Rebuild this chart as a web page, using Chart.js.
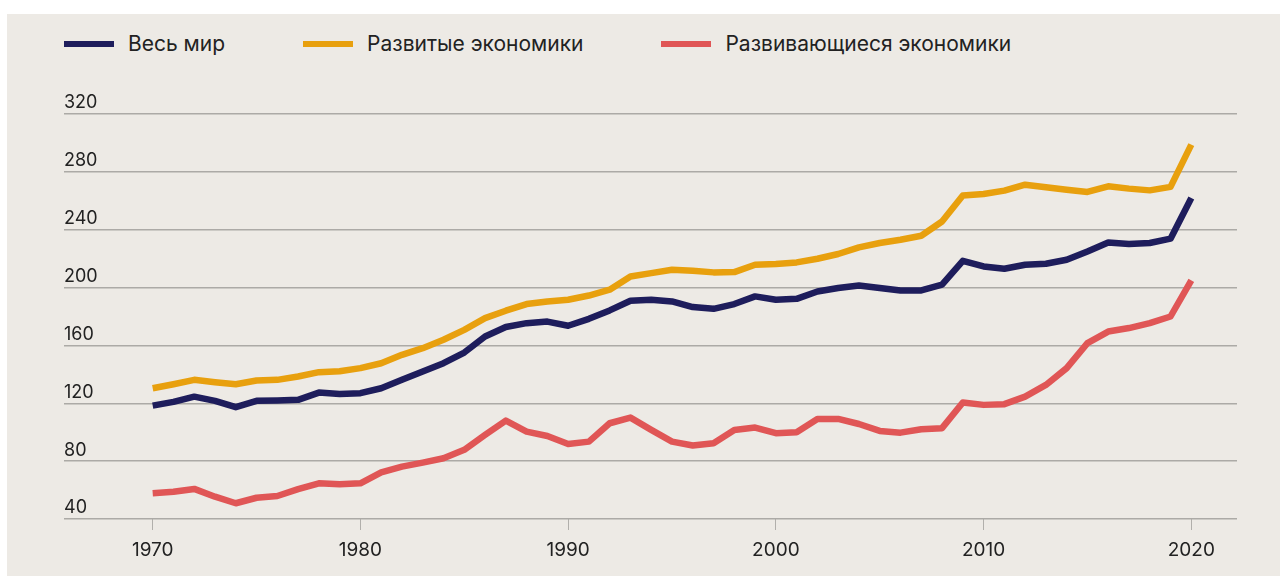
<!DOCTYPE html>
<html lang="ru">
<head>
<meta charset="utf-8">
<title>Долг</title>
<script src="https://cdn.jsdelivr.net/npm/chart.js@4.4.0/dist/chart.umd.min.js"></script>
<style>
  html, body { margin: 0; padding: 0; background: #fff; }
  body { width: 1280px; height: 576px; overflow: hidden; font-family: Inter, Roboto, sans-serif; }
  #panel { position: absolute; left: 7px; top: 14px; width: 1273px; height: 562px; background: #edeae5; }
  #legend { position: absolute; left: 57px; top: 17px; display: flex; align-items: center; font-size: 21px; color: #222; }
  .item { display: flex; align-items: center; margin-right: 78px; }
  .mark { width: 50px; height: 6px; margin-right: 14px; }
  canvas { position: absolute; left: 0; top: 0; }
</style>
</head>
<body>
<div id="panel">
  <div id="legend"></div>
  <canvas id="myChart" width="1273" height="562"></canvas>
</div>
<script>
const years = [];
for (let y = 1970; y <= 2020; y++) years.push(y);

const seriesNames = ['Весь мир', 'Развитые экономики', 'Развивающиеся экономики'];
const seriesColors = ['#1e1d5c', '#e8a00e', '#e05656'];

// весь мир
const world = [118.4, 121, 124.6, 121.7, 117.3, 121.7, 121.9, 122.4, 127.4, 126.5,
  127, 130.4, 136.2, 142, 147.7, 155.1, 166.2, 172.7, 175.4, 176.5,
  173.6, 178.4, 184.2, 190.9, 191.6, 190.4, 186.5, 185.3, 188.6, 193.9,
  191.6, 192.2, 197.3, 199.7, 201.5, 199.7, 198, 198, 202, 218.5,
  214.6, 213, 215.8, 216.5, 219.2, 225, 231.2, 230.1, 230.8, 233.8,
  261.9];

// развитые
const developed = [130.4, 133.2, 136.2, 134.6, 133.2, 135.7, 136.2, 138.5, 141.5, 142.2,
  144.3, 147.7, 153.5, 158.1, 163.9, 170.8, 178.9, 184, 188.6, 190.4,
  191.6, 194.5, 198.5, 207.7, 210, 212.3, 211.6, 210.5, 210.7, 215.8,
  216.3, 217.4, 219.9, 223.2, 227.8, 230.8, 233.1, 235.8, 245.7, 263.7,
  264.7, 267, 271.1, 269.3, 267.7, 266.1, 270, 268.4, 267.2, 269.6,
  298.8];

// развивающиеся
const emerging = [57.8, 58.9, 60.8, 55.4, 50.9, 54.7, 55.9, 60.6, 64.7, 64,
  64.7, 72.3, 76.2, 79, 82, 87.8, 98.1, 108, 100.4, 97.4,
  91.9, 93.5, 106.2, 110.1, 101.6, 93.5, 90.8, 92.4, 101.6, 103.2,
  99.3, 100, 109.2, 109.2, 105.7, 100.9, 99.7, 102.1, 102.8, 120.5,
  118.9, 119.4, 124.6, 132.7, 144.3, 161.6, 169.6, 172, 175.4, 180,
  204.9];

const xTicks = [1970, 1980, 1990, 2000, 2010, 2020];
const yTicks = [40, 80, 120, 160, 200, 240, 280, 320];

const fontFamily = 'Inter, Roboto, sans-serif';

const values = [world, developed, emerging];
const datasets = values.map((vals, i) => ({
  label: seriesNames[i],
  data: years.map((yr, j) => ({ x: yr, y: vals[j] })),
  borderColor: seriesColors[i],
  backgroundColor: seriesColors[i],
  borderWidth: 6.5,
  borderJoinStyle: 'round',
  pointRadius: 0,
  tension: 0
}));

const ctx = document.getElementById('myChart').getContext('2d');
const myChart = new Chart(ctx, {
  type: 'line',
  data: { datasets: datasets },
  options: {
    responsive: false,
    animation: false,
    layout: { padding: { left: 57, right: 43, top: 100, bottom: 0 } },
    plugins: {
      legend: { display: false },
      tooltip: { enabled: false }
    },
    scales: {
      x: {
        type: 'linear',
        min: 1965.73,
        max: 2022.2,
        afterBuildTicks: s => { s.ticks = xTicks.map(v => ({ value: v })); },
        afterFit: s => { s.height = 57; },
        border: { display: false },
        grid: { drawOnChartArea: false, drawTicks: true, tickLength: 11, tickColor: '#b1afab', tickWidth: 1 },
        ticks: { padding: 9, color: '#222', font: { family: fontFamily, size: 19 }, maxRotation: 0, callback: v => String(v) }
      },
      y: {
        min: 40,
        max: 320,
        afterBuildTicks: s => { s.ticks = yTicks.map(v => ({ value: v })); },
        afterFit: s => { s.width = 0; },
        border: { display: false },
        grid: { color: '#acaaa6', lineWidth: 1.5, drawTicks: false },
        ticks: { mirror: true, padding: 0, labelOffset: -11, color: '#222', font: { family: fontFamily, size: 18 } }
      }
    }
  }
});

// html legend from the chart datasets
const legend = document.getElementById('legend');
myChart.data.datasets.forEach(ds => {
  const item = document.createElement('div');
  item.className = 'item';
  const mark = document.createElement('span');
  mark.className = 'mark';
  mark.style.background = ds.borderColor;
  const txt = document.createElement('span');
  txt.textContent = ds.label;
  item.appendChild(mark);
  item.appendChild(txt);
  legend.appendChild(item);
});
</script>
</body>
</html>
